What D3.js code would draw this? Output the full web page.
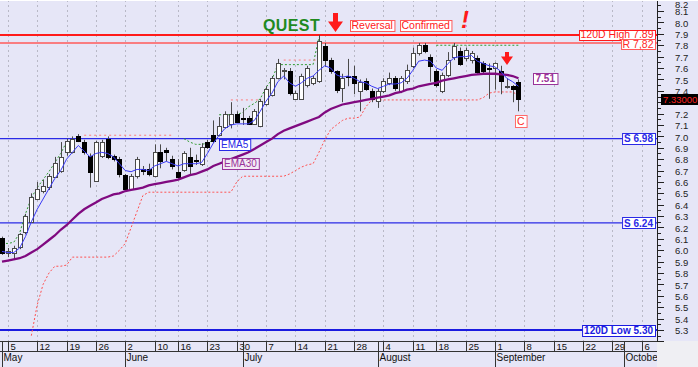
<!DOCTYPE html>
<html>
<head>
<meta charset="utf-8">
<title>QUEST</title>
<script src="https://cdnjs.cloudflare.com/ajax/libs/d3/7.8.5/d3.min.js"></script>
<style>
  body { margin: 0; background: #fff; }
  svg text { font-family: "Liberation Sans", Arial, sans-serif; }
</style>
</head>
<body>
<div id="chart"></div>
<script>
// daily candles, 2 May .. 5 Sep (trading days only)
var opens = [6.11,5.97,5.98,6.03,6.16,6.25,6.45,6.52,6.55,6.65, 6.70,6.86,6.87,7.00,6.95,6.83,6.61,6.83,6.98,6.83,
  6.80,6.66,6.54,6.65,6.71,6.71,6.65,6.86,6.88,6.80, 6.69,6.70,6.82,6.79,6.76,6.95,7.01,7.01,7.09,7.11,
  7.20,7.16,7.16,7.11,7.09,7.29,7.36,7.51,7.58,7.57, 7.33,7.33,7.45,7.47,7.49,7.79,7.67,7.57,7.42,7.53,
  7.53,7.40,7.49,7.40,7.31,7.40,7.47,7.51,7.40,7.48, 7.62,7.73,7.80,7.70,7.57,7.40,7.54,7.69,7.75,7.69,
  7.67,7.69,7.64,7.60,7.60,7.57,7.44,7.44,7.48];
var highs = [6.12,6.02,6.04,6.15,6.32,6.50,6.60,6.62,6.67,6.82, 6.95,6.98,7.00,7.02,6.97,6.85,6.96,6.97,7.00,6.84,
  6.82,6.67,6.67,6.82,6.74,6.76,6.93,6.93,6.90,6.83, 6.80,6.87,6.90,6.84,6.94,6.97,7.14,7.17,7.22,7.30,
  7.22,7.25,7.18,7.24,7.33,7.44,7.53,7.68,7.60,7.60, 7.40,7.55,7.62,7.53,7.89,7.82,7.69,7.58,7.55,7.68,
  7.62,7.50,7.51,7.42,7.42,7.51,7.56,7.53,7.53,7.63, 7.78,7.82,7.82,7.72,7.59,7.56,7.74,7.82,7.78,7.78,
  7.75,7.71,7.66,7.64,7.65,7.62,7.51,7.45,7.50];
var lows = [5.96,5.94,5.92,6.01,6.14,6.24,6.44,6.50,6.53,6.64, 6.68,6.83,6.85,6.95,6.84,6.55,6.60,6.81,6.80,6.78,
  6.64,6.53,6.53,6.63,6.66,6.65,6.64,6.72,6.78,6.71, 6.63,6.69,6.67,6.75,6.74,6.89,6.94,7.00,7.07,7.07,
  7.12,7.10,7.10,7.10,7.08,7.27,7.35,7.50,7.50,7.36, 7.32,7.32,7.43,7.45,7.47,7.61,7.55,7.38,7.30,7.44,
  7.37,7.22,7.40,7.30,7.25,7.38,7.45,7.40,7.38,7.46, 7.60,7.71,7.73,7.48,7.43,7.38,7.52,7.67,7.62,7.66,
  7.64,7.55,7.55,7.33,7.41,7.37,7.42,7.30,7.22];
var closes = [5.98,5.99,6.02,6.14,6.30,6.47,6.54,6.56,6.65,6.77, 6.82,6.96,6.98,6.96,6.86,6.69,6.95,6.95,6.82,6.80,
  6.67,6.54,6.65,6.80,6.69,6.67,6.86,6.78,6.86,6.74, 6.65,6.85,6.74,6.78,6.91,6.91,6.96,7.09,7.20,7.20,
  7.13,7.15,7.11,7.22,7.31,7.42,7.51,7.64,7.58,7.38, 7.38,7.53,7.60,7.51,7.84,7.67,7.57,7.40,7.51,7.52,
  7.47,7.48,7.42,7.33,7.40,7.49,7.51,7.42,7.51,7.58, 7.73,7.80,7.75,7.62,7.45,7.54,7.67,7.79,7.64,7.76,
  7.73,7.57,7.57,7.59,7.64,7.48,7.44,7.41,7.33];

var ema5 = [5.99,5.98,5.98,6.02,6.12,6.25,6.36,6.45,6.54,6.63, 6.70,6.80,6.86,6.92,6.87,6.82,6.85,6.86,6.85,6.82,
  6.76,6.70,6.69,6.71,6.71,6.70,6.74,6.76,6.78,6.76, 6.74,6.76,6.76,6.76,6.77,6.85,6.94,7.01,7.07,7.10,
  7.11,7.11,7.11,7.14,7.22,7.31,7.38,7.48,7.53,7.47, 7.44,7.47,7.51,7.53,7.58,7.62,7.60,7.54,7.52,7.53,
  7.51,7.48,7.47,7.44,7.42,7.44,7.46,7.46,7.47,7.51, 7.58,7.66,7.67,7.66,7.60,7.58,7.64,7.69,7.70,7.70,
  7.71,7.66,7.64,7.62,7.61,7.57,7.51,7.48,7.44];
var ema30 = [5.90,5.91,5.92,5.93,5.95,5.98,6.01,6.05,6.09,6.13, 6.18,6.22,6.27,6.32,6.36,6.39,6.42,6.45,6.47,6.49,
  6.50,6.52,6.53,6.54,6.55,6.57,6.58,6.59,6.60,6.61, 6.62,6.64,6.66,6.67,6.69,6.71,6.74,6.76,6.78,6.80,
  6.82,6.84,6.86,6.89,6.92,6.95,6.98,7.02,7.05,7.07, 7.09,7.11,7.13,7.15,7.17,7.21,7.24,7.26,7.28,7.29,
  7.30,7.31,7.32,7.33,7.34,7.35,7.36,7.38,7.39,7.41, 7.42,7.44,7.45,7.46,7.47,7.49,7.50,7.51,7.52,7.53,
  7.54,7.545,7.55,7.55,7.55,7.545,7.54,7.53,7.51];
// trailing stop (red dotted)
var stopLine = [null,null,null,null,null,5.25,5.52,5.70,5.80,5.86, 5.86,5.87,5.94,5.94,5.94,5.94,5.94,5.94,5.94,5.95,
  6.00,6.06,6.20,6.34,6.48,6.51,6.51,6.51,6.51,6.51, 6.51,6.51,6.51,6.51,6.51,6.51,6.51,6.51,6.51,6.51,
  6.60,6.65,6.65,6.65,6.65,6.65,6.65,6.65,6.65,6.67, 6.70,6.73,6.75,6.76,6.86,6.97,7.06,7.10,7.14,7.16,
  7.16,7.17,7.26,7.32,7.32,7.32,7.32,7.32,7.32,7.32, 7.32,7.32,7.32,7.32,7.32,7.32,7.32,7.32,7.32,7.32,
  7.32,7.32,7.34,7.38,7.39,7.39,7.39,7.39,7.36];
// green dotted channel pieces [start day, values...]
var greenLines = [
  [0, [6.06,6.06,6.07,6.15,6.32,6.46,6.55,6.62,6.69,6.77,6.85,6.95]],
  [31, [6.98,6.95,6.93,6.93,6.94,6.97]],
  [37, [7.19,7.19,7.19,7.19,7.21,7.26,7.29,7.33,7.43,7.50,7.63,7.63,7.63,7.63,7.63,7.63,7.63,7.87]],
  [74, [7.80,7.80,7.80,7.80,7.80,7.80,7.80,7.80,7.80,7.80,7.80,7.80,7.80,7.80,7.80]]
];
// pink dotted resistance pieces [from day, to day, value]
var pinkLines = [[14, 29, 7.01], [39, 44, 7.32], [48, 54, 7.67]];

var levels = [
  { v: 7.89, label: "120D High 7.89", color: "#ff1a1a", width: 2, bold: false, shift: -0.5 },
  { v: 7.82, label: "R 7,82", color: "#ff5a5a", width: 1.3, bold: false, shift: 1.5 },
  { v: 6.98, label: "S 6.98", color: "#2a2ae6", width: 1.2, bold: true, shift: 0 },
  { v: 6.24, label: "S 6.24", color: "#2a2ae6", width: 1.2, bold: true, shift: 0 },
  { v: 5.30, label: "120D Low 5.30", color: "#1a1ae0", width: 2, bold: true, shift: 0 }
];

var weekLabels = ["5","12","19","26","2","10","16","23","30","7","14","21","28","4","11","18","25","1","8","15","22","29","6"];
var weekDays = [1,6,11,16,21,26,30,35,40,45,50,55,60,65,70,74,79,84,89,94,99,104,109];
var monthLabels = ["May","June","July","August","September","October"];
var monthDays = [0,21,41,64,84,106];
var yTicks = d3.range(52, 83).map(function(d){ return d / 10; });

var W = 698, H = 367, plotR = 657, plotB = 341.4;
var bg = "#e6e6f7";
var last = closes[closes.length - 1];

var svg = d3.select("#chart").append("svg").attr("width", W).attr("height", H);
svg.append("rect").attr("width", W).attr("height", H).attr("fill", bg);
svg.append("rect").attr("x", plotR).attr("y", 341).attr("width", W - plotR).attr("height", H - 341).attr("fill", "#efeff3");

var x = d3.scaleLinear().domain([-0.34, 111.6]).range([0, plotR]);
var y = d3.scaleLinear().domain([5.2, 8.2]).range([plotB, -0.3]);

svg.append("clipPath").attr("id", "plot").append("rect").attr("width", plotR).attr("height", 341);
svg.append("clipPath").attr("id", "xax").append("rect").attr("y", 341).attr("width", plotR).attr("height", 26);

var plot = svg.append("g").attr("clip-path", "url(#plot)");

// vertical grid
plot.selectAll(".grid").data(weekDays).enter().append("line")
  .attr("x1", function(d){ return Math.round(x(d)) + 0.5; })
  .attr("x2", function(d){ return Math.round(x(d)) + 0.5; })
  .attr("y1", 0).attr("y2", 341)
  .attr("stroke", "#b8b8c6").attr("stroke-dasharray", "2,3");

// level lines
levels.forEach(function(l){
  plot.append("line").attr("x1", 0).attr("x2", plotR)
    .attr("y1", y(l.v)).attr("y2", y(l.v))
    .attr("stroke", l.color).attr("stroke-width", l.width);
});

// dotted helper lines
var stopPath = d3.line().defined(function(d){ return d != null; })
  .x(function(d, i){ return x(i); }).y(function(d){ return y(d); });
plot.append("path").attr("d", stopPath(stopLine)).attr("fill", "none")
  .attr("stroke", "#ff5050").attr("stroke-width", 1).attr("stroke-dasharray", "2,2");

greenLines.forEach(function(g){
  var ln = d3.line().x(function(d, i){ return x(g[0] + i); }).y(function(d){ return y(d); });
  plot.append("path").attr("d", ln(g[1])).attr("fill", "none")
    .attr("stroke", "#2e9a2e").attr("stroke-width", 1).attr("stroke-dasharray", "2,2");
});
pinkLines.forEach(function(p){
  plot.append("line").attr("x1", x(p[0])).attr("x2", x(p[1]))
    .attr("y1", y(p[2])).attr("y2", y(p[2]))
    .attr("stroke", "#ff7b7b").attr("stroke-dasharray", "2,3");
});

// candles
var days = d3.range(opens.length);
plot.selectAll(".wick").data(days).enter().append("line")
  .attr("x1", function(i){ return Math.round(x(i)) + 0.5; })
  .attr("x2", function(i){ return Math.round(x(i)) + 0.5; })
  .attr("y1", function(i){ return y(highs[i]); })
  .attr("y2", function(i){ return y(lows[i]); })
  .attr("stroke", "#4a4a4a").attr("stroke-width", 1);

plot.selectAll(".body").data(days).enter().append("rect")
  .attr("x", function(i){ return Math.round(x(i)) - 1.5; })
  .attr("width", 4)
  .attr("y", function(i){ return Math.round(y(Math.max(opens[i], closes[i]))) + 0.5; })
  .attr("height", function(i){ return Math.max(1, Math.round(y(Math.min(opens[i], closes[i])) - y(Math.max(opens[i], closes[i])))); })
  .attr("fill", function(i){ return closes[i] >= opens[i] ? "#fff" : "#000"; })
  .attr("stroke", function(i){ return closes[i] >= opens[i] ? "#4a4a4a" : "#000"; })
  .attr("stroke-width", 1);

// moving averages
var avg = d3.line().x(function(d, i){ return x(i); }).y(function(d){ return y(d); });
plot.append("path").attr("d", avg(ema30)).attr("fill", "none").attr("stroke", "#800a80").attr("stroke-width", 2.3);
plot.append("path").attr("d", avg(ema5)).attr("fill", "none").attr("stroke", "#3a3af5").attr("stroke-width", 1);

// boxed labels
function tag(txt, px, py, opt) {
  var g = svg.append("g");
  var r = g.append("rect");
  var t = g.append("text").text(txt)
    .attr("font-size", opt.size || 10)
    .attr("font-weight", opt.bold ? "bold" : "normal")
    .attr("fill", opt.color).attr("dy", "0.36em");
  var w = t.node().getComputedTextLength() + (opt.pad || 3) * 2;
  var h = opt.h || 11;
  var left = opt.right ? px - w : px;
  t.attr("x", left + (opt.pad || 3)).attr("y", py);
  r.attr("x", left + 0.5).attr("y", Math.round(py - h / 2) + 0.5).attr("width", w).attr("height", h)
    .attr("fill", opt.fill || "#fff").attr("stroke", opt.border || opt.color).attr("stroke-width", 1);
  return g;
}

levels.forEach(function(l){
  tag(l.label, 655, y(l.v) + l.shift, { color: l.color === "#ff5a5a" ? "#ff2a2a" : l.color, border: l.color,
    bold: l.bold, size: l.bold ? 10 : 10.5, right: true, pad: l.bold ? 2 : 1.5, h: l.bold ? 11 : 10 });
});

tag("EMA5", 219, 144, { color: "#2a2ae6", size: 10, pad: 2 });
tag("EMA30", 222, 163, { color: "#993399", size: 10, pad: 2, fill: "#f3e9f5" });
tag("7.51", 533, y(ema30[ema30.length - 1]) + 0.5, { color: "#993399", bold: true, size: 10, pad: 2.5 });
tag("C", 515, 121, { color: "#ff2a2a", border: "#ff6a6a", size: 10.5, pad: 2, h: 12 });
tag("Reversal", 350, 25, { color: "#ff2020", border: "#ff5a5a", size: 10.5, pad: 1.5 });
tag("Confirmed", 400, 25, { color: "#ff2020", border: "#ff5a5a", size: 10.5, pad: 1.5 });

svg.append("text").text("QUEST").attr("x", 263).attr("y", 31)
  .attr("font-size", 16).attr("font-weight", "bold").attr("fill", "#1f8a1f").attr("letter-spacing", 0.4);
svg.append("text").text("!").attr("x", 465).attr("y", 28).attr("text-anchor", "middle")
  .attr("font-size", 24).attr("font-weight", "bold").attr("font-style", "italic").attr("fill", "#ff1a1a");

function arrow(cx, top, bottom, shaft, head) {
  var hy = bottom - head * 0.7;
  svg.append("path")
    .attr("d", "M" + (cx - shaft / 2) + "," + top + "H" + (cx + shaft / 2) + "V" + hy +
      "H" + (cx + head / 2) + "L" + cx + "," + bottom + "L" + (cx - head / 2) + "," + hy +
      "H" + (cx - shaft / 2) + "Z")
    .attr("fill", "#ff1a1a");
}
arrow(335.5, 13, 32, 5, 15);
arrow(507, 52, 65, 4, 12);

// right axis
var ax = svg.append("g");
ax.append("line").attr("x1", plotR + 0.5).attr("x2", plotR + 0.5).attr("y1", 0).attr("y2", 341).attr("stroke", "#222");
ax.selectAll(".maj").data(yTicks).enter().append("line")
  .attr("x1", plotR).attr("x2", plotR + 7)
  .attr("y1", function(d){ return Math.round(y(d)) + 0.5; })
  .attr("y2", function(d){ return Math.round(y(d)) + 0.5; })
  .attr("stroke", "#222");
ax.selectAll(".min").data(yTicks.slice(0, -1)).enter().append("line")
  .attr("x1", plotR).attr("x2", plotR + 4)
  .attr("y1", function(d){ return Math.round(y(d + 0.05)) + 0.5; })
  .attr("y2", function(d){ return Math.round(y(d + 0.05)) + 0.5; })
  .attr("stroke", "#222");
// the 7.3 label sits under the last-price box
ax.selectAll(".lab").data(yTicks.filter(function(d){ return d > 5.25 && Math.abs(d - last) > 0.05; })).enter().append("text")
  .attr("x", 675).attr("y", function(d){ return Math.max(5, y(d) + 1); }).attr("dy", "0.33em")
  .attr("font-size", 9.5).attr("fill", "#222")
  .text(function(d){ return d.toFixed(1); });

// last price box
svg.append("rect").attr("x", 661).attr("y", 94).attr("width", 37).attr("height", 11).attr("fill", "#000");
svg.append("text").text(last.toFixed(5)).attr("x", 663).attr("y", 99.5).attr("dy", "0.36em")
  .attr("font-size", 9.5).attr("fill", "#ff2020");

// date axis
var xa = svg.append("g").attr("clip-path", "url(#xax)");
xa.append("line").attr("x1", 0).attr("x2", plotR).attr("y1", 341.5).attr("y2", 341.5).attr("stroke", "#333");
xa.append("line").attr("x1", 0).attr("x2", plotR).attr("y1", 351.5).attr("y2", 351.5).attr("stroke", "#333");
xa.selectAll(".wk").data(weekDays).enter().append("line")
  .attr("x1", function(d){ return Math.round(x(d)) + 0.5; })
  .attr("x2", function(d){ return Math.round(x(d)) + 0.5; })
  .attr("y1", 341).attr("y2", 351.5).attr("stroke", "#333");
xa.selectAll(".wkl").data(weekLabels).enter().append("text")
  .attr("x", function(d, i){ return Math.round(x(weekDays[i])) + 2.5; })
  .attr("y", 349.5).attr("font-size", 9.5).attr("fill", "#111")
  .text(function(d){ return d; });
xa.selectAll(".mo").data(monthDays).enter().append("line")
  .attr("x1", function(d){ return Math.round(x(d)) + 0.5; })
  .attr("x2", function(d){ return Math.round(x(d)) + 0.5; })
  .attr("y1", 341).attr("y2", 367).attr("stroke", "#333");
xa.selectAll(".mol").data(monthLabels).enter().append("text")
  .attr("x", function(d, i){ return Math.round(x(monthDays[i])) + 1.5; })
  .attr("y", 361).attr("font-size", 10).attr("fill", "#111")
  .text(function(d){ return d; });
svg.append("line").attr("x1", 0).attr("x2", W).attr("y1", 0.5).attr("y2", 0.5).attr("stroke", "#fff");
</script>
</body>
</html>
